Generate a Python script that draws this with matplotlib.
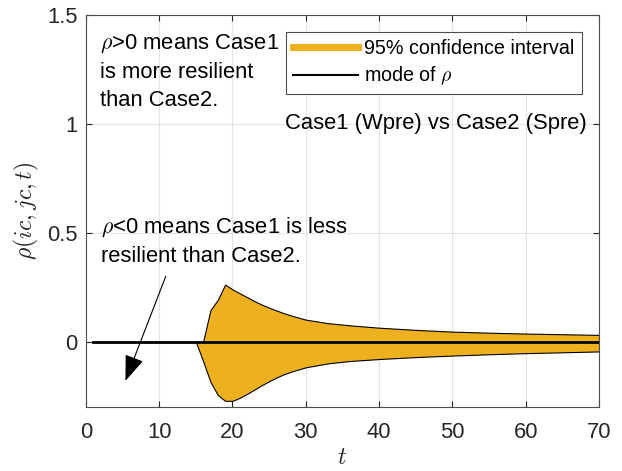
import numpy as np
import matplotlib
matplotlib.use("Agg")
import matplotlib.pyplot as plt
from matplotlib.lines import Line2D

plt.rcParams['font.family'] = ['Liberation Sans', 'DejaVu Sans']
plt.rcParams['mathtext.fontset'] = 'cm'

# confidence band of rho (Case1 Wpre vs Case2 Spre)
t_band = [15, 16, 17, 18, 19, 20, 21, 22, 23, 24, 25, 26, 27, 28, 30, 33, 36, 40,
          45, 50, 55, 60, 65, 70]
rho_upper = [0.0, 0.0, 0.145, 0.192, 0.262, 0.240, 0.222, 0.204, 0.186, 0.170, 0.156,
             0.143, 0.131, 0.120, 0.101, 0.085, 0.075, 0.064, 0.054, 0.046, 0.041,
             0.037, 0.034, 0.031]
rho_lower = [0.0, -0.09, -0.185, -0.245, -0.272, -0.272, -0.258, -0.240, -0.220, -0.200,
             -0.182, -0.165, -0.150, -0.138, -0.118, -0.100, -0.089, -0.080, -0.071,
             -0.064, -0.058, -0.053, -0.049, -0.045]

# mode of rho
t_mode = [1, 70]
rho_mode = [0.0, 0.0]

xticks = [0, 10, 20, 30, 40, 50, 60, 70]
yticks = [0, 0.5, 1, 1.5]

band_col = '#EDB120'
axis_col = '#262626'
fs = 15.8

fig = plt.figure(figsize=(6.22, 4.71), dpi=100)
ax = fig.add_axes([0.138, 0.136, 0.825, 0.832])

ax.fill_between(t_band, rho_lower, rho_upper, facecolor=band_col,
                edgecolor='black', linewidth=0.8, zorder=2)
ax.plot(t_mode, rho_mode, color='black', linewidth=2.0, zorder=3)

ax.set_xlim(0, 70)
ax.set_ylim(-0.3, 1.5)
ax.set_xticks(xticks)
ax.set_yticks(yticks)
ax.set_yticklabels(['0', '0.5', '1', '1.5'])
ax.grid(True, color='#e3e3e3', linewidth=0.8, zorder=0)
ax.set_axisbelow(True)
ax.tick_params(direction='in', length=4, width=0.8, top=True, right=True,
               labelsize=fs, colors=axis_col)
ax.tick_params(axis='x', pad=11)
ax.tick_params(axis='y', pad=6)
for s in ax.spines.values():
    s.set_color('#4d4d4d')
    s.set_linewidth(0.8)

ax.set_xlabel('$t$', fontsize=17, color=axis_col, labelpad=3)
ax.set_ylabel(r'$\rho(ic,jc,t)$', fontsize=17, color=axis_col, labelpad=4)

ax.text(1.9, 1.42, '$\\rho$>0 means Case1\nis more resilient\nthan Case2.',
        fontsize=fs, va='top', ha='left', linespacing=1.45)
ax.text(2.1, 0.58, '$\\rho$<0 means Case1 is less\nresilient than Case2.',
        fontsize=fs, va='top', ha='left', linespacing=1.42)
ax.text(68.3, 1.0, 'Case1 (Wpre) vs Case2 (Spre)', fontsize=fs, va='center', ha='right',
        zorder=4)

ax.annotate('', xy=(5.4, -0.18), xytext=(10.9, 0.30),
            arrowprops=dict(arrowstyle='-|>,head_length=0.8,head_width=0.3',
                            color='black', lw=0.8, shrinkA=0, shrinkB=0,
                            mutation_scale=20))

handles = [Line2D([], [], color=band_col, linewidth=5),
           Line2D([], [], color='black', linewidth=1.5)]
leg = ax.legend(handles, ['95% confidence interval', r'mode of $\rho$'],
                loc='upper right', bbox_to_anchor=(0.966, 0.957), borderaxespad=0,
                fontsize=14.2, handlelength=3.3, handletextpad=0.3, fancybox=False,
                framealpha=1, edgecolor='#4d4d4d', borderpad=0.35, labelspacing=0.35)
leg.get_frame().set_linewidth(0.8)

fig.savefig('out.png', dpi=100)
